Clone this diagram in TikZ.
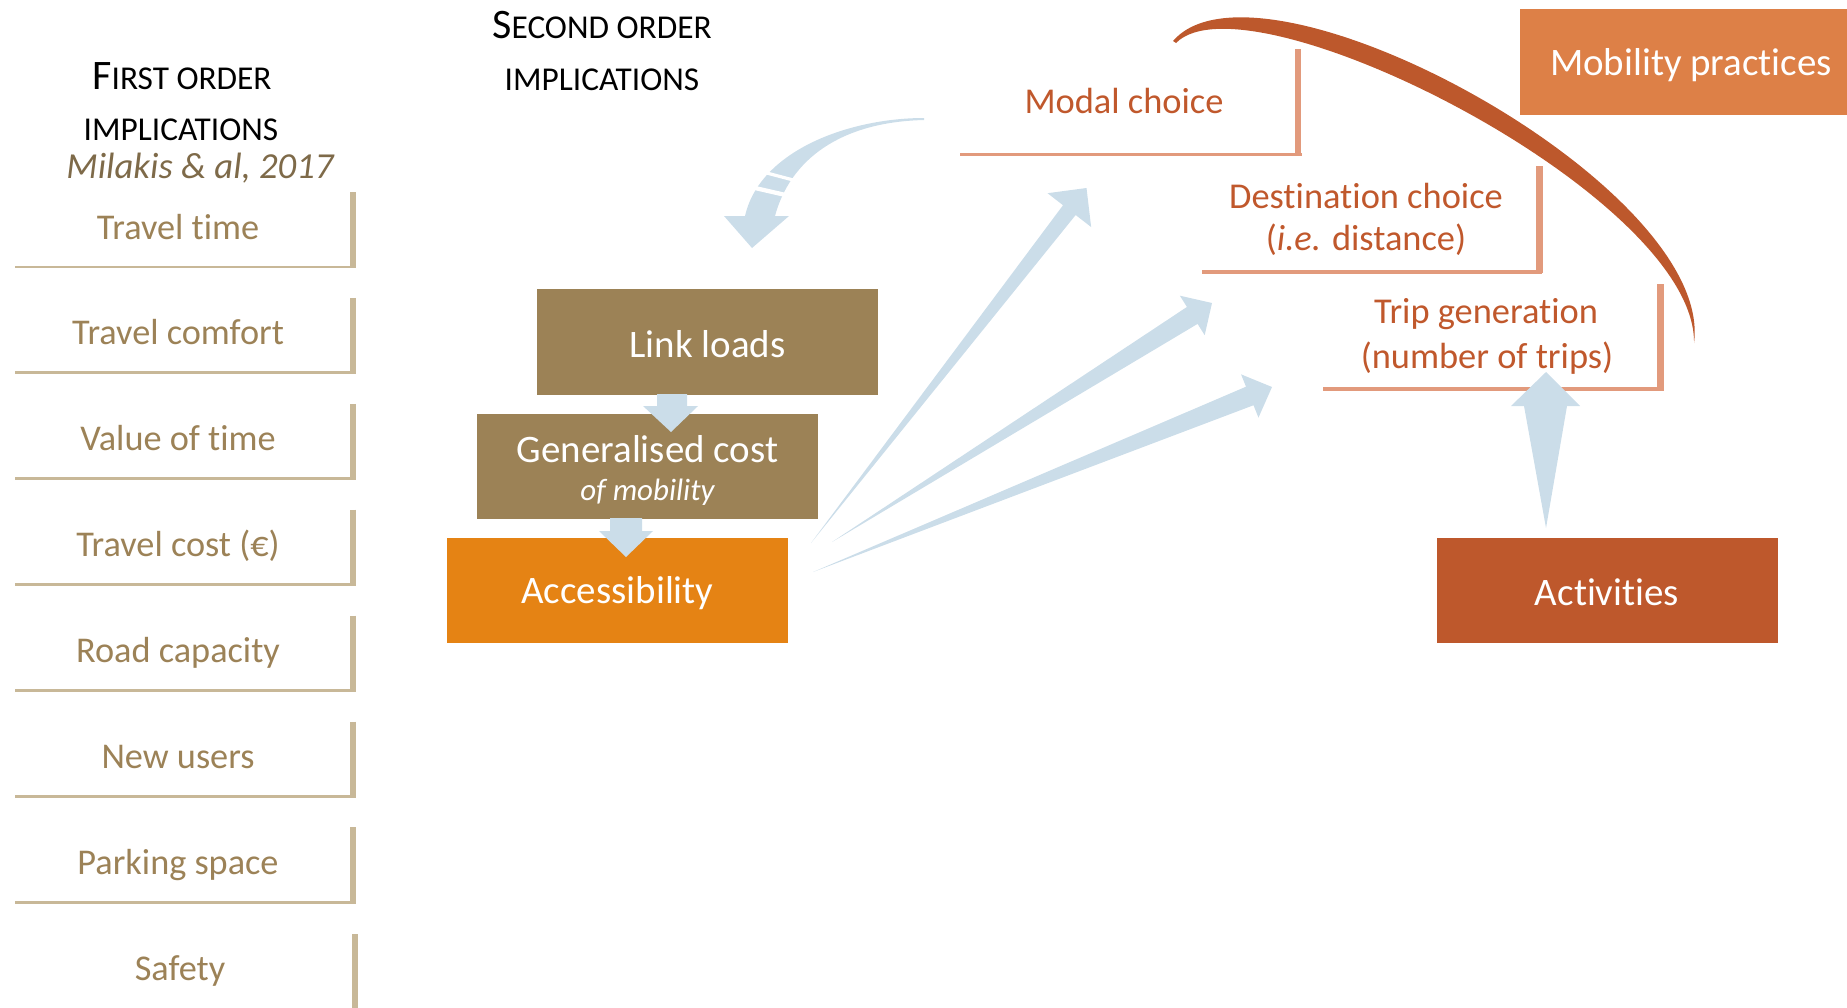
\documentclass[tikz,border=0pt]{standalone}
\usepackage{fontspec}
\setmainfont{Carlito}[Ligatures=NoCommon]
\usetikzlibrary{calc}
\definecolor{tanline}{HTML}{C8B898}
\definecolor{tantext}{HTML}{9C8257}
\definecolor{citecol}{HTML}{7E6A49}
\definecolor{boxbrown}{HTML}{9C8256}
\definecolor{boxorange}{HTML}{E58314}
\definecolor{mobilcol}{HTML}{DD8047}
\definecolor{activcol}{HTML}{BE582C}
\definecolor{redtext}{HTML}{C0582C}
\definecolor{salmon}{HTML}{E29A7C}
\definecolor{arrowblue}{HTML}{CBDDE9}
\definecolor{arccol}{HTML}{BD582C}
\tikzset{
  item/.style={anchor=base, text=tantext, inner sep=0, font=\fontsize{27.2pt}{31pt}\selectfont},
  boxlbl/.style={anchor=base, text=white, inner sep=0, font=\fontsize{29.2pt}{34pt}\selectfont},
  rlbl/.style={anchor=base, text=redtext, inner sep=0, font=\fontsize{27.3pt}{32pt}\selectfont},
  ttl/.style={anchor=base, text=black, inner sep=0},
  solidbox/.style={draw=none, inner sep=0, minimum width=255.75pt, minimum height=79pt},
  tanh/.style={draw=tanline, line width=2.2pt},
  tanv/.style={draw=tanline, line width=4.6pt},
  salh/.style={draw=salmon, line width=2.4pt},
  salv/.style={draw=salmon, line width=5pt},
  blockarrow/.style={fill=arrowblue, draw=none},
}
\newcommand{\fanarrow}[5]{%
  \coordinate (#1-b) at ($(#2)!#3!(#1)$);
  \fill[blockarrow] (#1) -- ($(#1-b)!#5!90:(#2)$) -- ($(#1-b)!#4!90:(#2)$) -- (#2)
     -- ($(#1-b)!#4!-90:(#2)$) -- ($(#1-b)!#5!-90:(#2)$) -- cycle;}
\begin{document}
\begin{tikzpicture}[x=0.75pt,y=-0.75pt]
\useasboundingbox (0,0) rectangle (1847,1007);

% ---------- titles ----------
\node[ttl] (t1a) at (182,89) {\fontsize{31.5pt}{36pt}\selectfont F\fontsize{25pt}{30pt}\selectfont IRST ORDER};
\node[ttl] (t1b) at (181,140) {\fontsize{25pt}{30pt}\selectfont IMPLICATIONS};
\node[anchor=base, inner sep=0, text=citecol, font=\itshape\fontsize{27.5pt}{31pt}\selectfont] (cite) at (200,178) {Milakis \& al, 2017};
\node[ttl] (t2a) at (602,38) {\fontsize{31.5pt}{36pt}\selectfont S\fontsize{25pt}{30pt}\selectfont ECOND ORDER};
\node[ttl] (t2b) at (602,90) {\fontsize{25pt}{30pt}\selectfont IMPLICATIONS};

% ---------- first order items ----------
\foreach \txt [count=\i from 0] in {Travel time,Travel comfort,Value of time,Travel cost (€),Road capacity,New users,Parking space} {
  \pgfmathsetmacro{\bot}{267+105.9*\i}
  \draw[tanh] (15,\bot) -- (355.3,\bot);
  \draw[tanv] (353,\bot-75) -- (353,\bot+1.1);
  \node[item] (fo\i) at (178,\bot-28) {\txt};
}
\draw[tanv] (355,934) -- (355,1010);
\node[item] (fo7) at (180,980) {Safety};

% ---------- second order boxes ----------
\node[solidbox, fill=boxbrown] (ll) at (707.5,342) {};
\node[boxlbl] (lllbl) at (707.5,357) {Link loads};
\node[solidbox, fill=boxbrown] (gc) at (647.5,466.5) {};
\node[boxlbl] (gclbl) at (647.5,462) {Generalised cost};
\node[anchor=base, text=white, inner sep=0, font=\itshape\fontsize{23.2pt}{28pt}\selectfont] (gclbl2) at (647.5,500) {of mobility};
\node[solidbox, fill=boxorange] (acc) at (617.5,590.5) {};
\node[boxlbl] (acclbl) at (617.5,603) {Accessibility};

\node[solidbox, fill=activcol] (act) at (1607.5,590.5) {};
\node[boxlbl] (actlbl) at (1607,605) {Activities};
\node[solidbox, fill=mobilcol, minimum width=247.5pt] (mob) at (1685,62) {};
\node[boxlbl] (moblbl) at (1691,75) {Mobility practices};

% ---------- right brackets ----------
\draw[salh] (960,154.5) -- (1302,154.5);
\draw[salv] (1298,49) -- (1298,155.7);
\node[rlbl] (modal) at (1124,113) {Modal choice};

\draw[salh] (1202,272) -- (1542,272);
\draw[salv] (1539.5,166) -- (1539.5,273.2);
\node[rlbl] (dest) at (1366,208) {Destination choice};
\node[rlbl] (dest2) at (1366,250) {(\textit{i.e.} distance)};

\draw[salh] (1323,389) -- (1664,389);
\draw[salv] (1660.5,284) -- (1660.5,390.2);
\node[rlbl] (trip) at (1486,323) {Trip generation};
\node[rlbl] (trip2) at (1487,368) {(number of trips)};

% ---------- mobility practices arc ----------
\fill[arccol] (1173,41) .. controls (1260,-60) and (1715,185) .. (1694,343)
   .. controls (1696,195) and (1248,-30) .. (1176,43) -- cycle;

% ---------- block arrows ----------
\fill[blockarrow] (657,394) -- (687,394) -- (687,406) -- (698,406) -- (671,432) -- (643,406) -- (657,406) -- cycle;
\fill[blockarrow] (610,518) -- (642,518) -- (642,531) -- (653,531) -- (626,557) -- (599,531) -- (610,531) -- cycle;
\fill[blockarrow] (1546,528) -- (1567,406) -- (1580,406) -- (1546,372) -- (1511,406) -- (1524,406) -- cycle;

% curved arrow from modal choice back to link loads
\fill[blockarrow] (924,118) .. controls (850,118) and (760,150) .. (745,216) -- (724,216) -- (752,248)
   -- (789,216) -- (775,216) .. controls (790,160) and (840,122) .. (924,120) -- cycle;
\draw[white, line width=2.4pt] (763,172) -- (797,181);
\draw[white, line width=3.2pt] (755,188) -- (790,196);

% fan arrows from accessibility
\coordinate (fa) at (811,543);
\coordinate (fap) at (1086.5,188);
\coordinate (fb) at (832,542);
\coordinate (fbp) at (1212,303);
\coordinate (fc) at (813,572);
\coordinate (fcp) at (1272,387);
\fanarrow{fa}{fap}{21pt}{20.7pt}{6pt}
\fanarrow{fb}{fbp}{17.5pt}{17.5pt}{7.5pt}
\fanarrow{fc}{fcp}{18pt}{17.5pt}{7.5pt}
\end{tikzpicture}
\end{document}
